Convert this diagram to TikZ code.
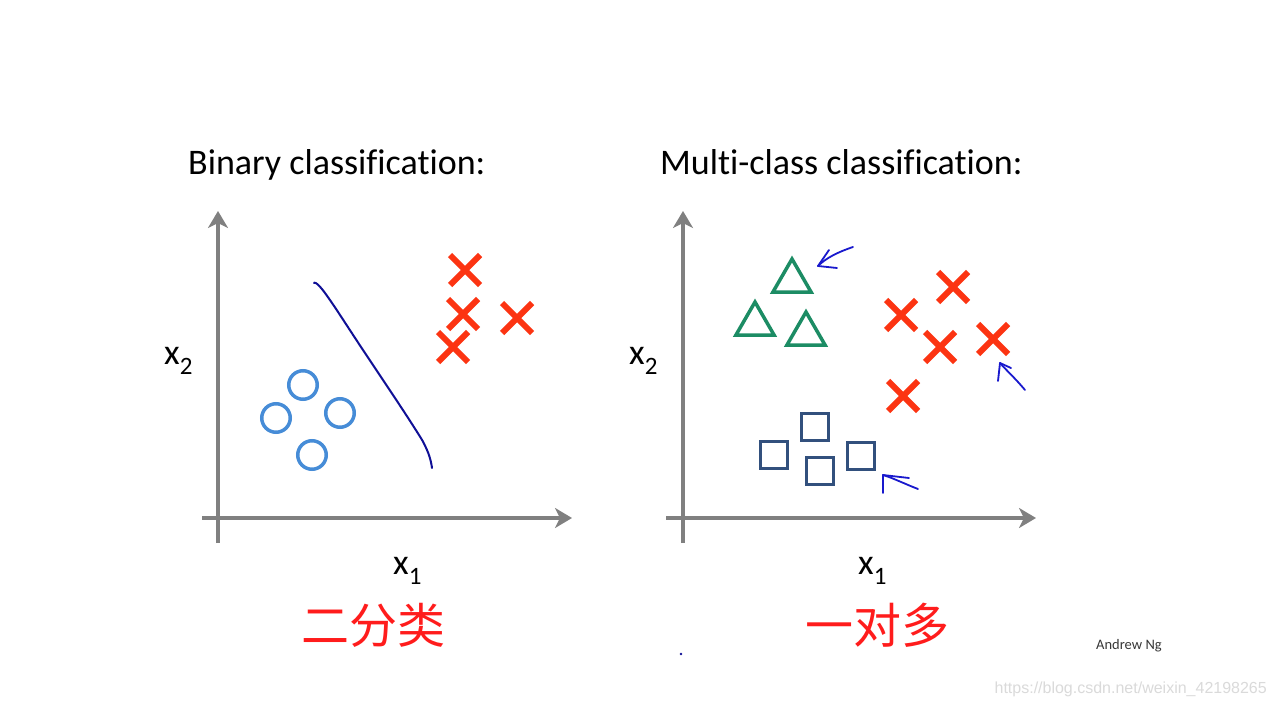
\documentclass[tikz,border=0pt]{standalone}
\usepackage{fontspec}
\setmainfont{Carlito}[Ligatures=NoCommon]
\newfontfamily\cjk{Noto Sans CJK SC}
\newfontfamily\arialf{Liberation Sans}
\usetikzlibrary{arrows.meta,shapes.geometric,shapes.misc}
\definecolor{axisgray}{RGB}{128,128,128}
\definecolor{circblue}{RGB}{70,140,215}
\definecolor{xred}{RGB}{252,52,18}
\definecolor{trigreen}{RGB}{28,140,100}
\definecolor{sqblue}{RGB}{50,80,125}
\definecolor{penblue}{RGB}{25,25,205}
\definecolor{sepblue}{RGB}{15,15,150}
\definecolor{cnred}{RGB}{255,28,28}
\definecolor{wmgray}{RGB}{218,218,218}
\tikzset{
  axis/.style={draw=axisgray,line width=4pt,-{Stealth[length=17pt,width=20pt,inset=5pt]}},
  xpt/.style={cross out,draw=xred,line width=6pt,minimum size=24pt,inner sep=0pt},
  opt/.style={circle,draw=circblue,line width=3.5pt,minimum size=28.5pt,inner sep=0pt},
  tpt/.style={regular polygon,regular polygon sides=3,draw=trigreen,line width=3.5pt,minimum size=44pt,inner sep=0pt},
  spt/.style={rectangle,draw=sqblue,line width=3pt,minimum size=27pt,inner sep=0pt},
  pen/.style={draw=penblue,line width=1.8pt,line cap=round,line join=round},
  title/.style={font=\fontsize{36}{42}\selectfont,anchor=base west,inner sep=0pt},
  axlabel/.style={font=\fontsize{36}{42}\selectfont,anchor=base west,inner sep=0pt},
  cn/.style={font=\cjk\fontsize{48}{56}\selectfont,text=cnred,inner sep=0pt},
}
\newcommand{\subs}[1]{\raisebox{-0.3em}{\fontsize{25}{25}\selectfont #1}}
\begin{document}
\begin{tikzpicture}[x=1pt,y=-1pt]
\useasboundingbox (0,0) rectangle (1276,706);
\fill[white] (0,0) rectangle (1276,706);

% titles
\node[title] (t1) at (188,174) {Binary classification:};
\node[title] (t2) at (660,174) {Multi-class classification:};

% left axes
\coordinate (l0) at (218,543);
\coordinate (ltop) at (218,211);
\coordinate (lx0) at (202,518);
\coordinate (lright) at (572,518);
\draw[axis] (l0) -- (ltop);
\draw[axis] (lx0) -- (lright);
\node[axlabel] (lx2) at (164,364) {x\subs{2}};
\node[axlabel] (lx1) at (393,574) {x\subs{1}};

% right axes
\coordinate (r0) at (683,543);
\coordinate (rtop) at (683,211);
\coordinate (rx0) at (666,518);
\coordinate (rright) at (1036,518);
\draw[axis] (r0) -- (rtop);
\draw[axis] (rx0) -- (rright);
\node[axlabel] (rx2) at (629,364) {x\subs{2}};
\node[axlabel] (rx1) at (858,574) {x\subs{1}};

% left: circles
\node[opt] (o1) at (303,385) {};
\node[opt] (o2) at (276,418) {};
\node[opt] (o3) at (340,413) {};
\node[opt] (o4) at (312,455) {};
% left: crosses
\node[xpt] (c1) at (465,270) {};
\node[xpt] (c2) at (463,314) {};
\node[xpt] (c3) at (517,318) {};
\node[xpt] (c4) at (453,347) {};
% separator
\draw[draw=sepblue,line width=2pt,line cap=round] plot[smooth,tension=0.7] coordinates {(314,283) (325,293) (363,350) (412,424) (427,450) (432,468)};

% right: triangles
\node[tpt] (g1) at (792,281) {};
\node[tpt] (g2) at (755,324) {};
\node[tpt] (g3) at (806,334) {};
% right: crosses
\node[xpt] (d1) at (901,315) {};
\node[xpt] (d2) at (953,287) {};
\node[xpt] (d3) at (940,347) {};
\node[xpt] (d4) at (993,339) {};
\node[xpt] (d5) at (903,396) {};
% right: squares
\node[spt] (s1) at (815,427) {};
\node[spt] (s2) at (774,455) {};
\node[spt] (s3) at (820,471) {};
\node[spt] (s4) at (861,456) {};

% hand-drawn arrows
\coordinate (a1tail) at (853,247);
\coordinate (a1tip) at (818,266);
\draw[pen] (a1tail) .. controls (838,252) and (826,258) .. (a1tip);
\draw[pen] (829,250) -- (a1tip) -- (837,268);
\coordinate (a2tail) at (1025,390);
\coordinate (a2tip) at (1000,363);
\draw[pen] (a2tail) .. controls (1015,378) and (1006,370) .. (a2tip);
\draw[pen] (998,381) -- (a2tip) -- (1011,368);
\coordinate (a3tail) at (918,489);
\coordinate (a3tip) at (883,475);
\draw[pen] (a3tail) .. controls (905,484) and (893,478) .. (a3tip);
\draw[pen] (883,493) -- (a3tip) -- (909,478);

% Chinese captions
\node[cn] (cn1) at (373,625) {二分类};
\node[cn] (cn2) at (877,625) {一对多};

% credits
\node[font=\fontsize{14.5}{16}\selectfont,text={rgb,255:red,55;green,55;blue,55},anchor=base west,inner sep=0pt] (ng) at (1096,649) {Andrew Ng};
\node[font=\arialf\fontsize{16}{18}\selectfont,text=wmgray,anchor=base east,inner sep=0pt] (wm) at (1267,693) {https://blog.csdn.net/weixin\_42198265};
\fill[sepblue] (681,654) circle (1.3pt);
\end{tikzpicture}
\end{document}
